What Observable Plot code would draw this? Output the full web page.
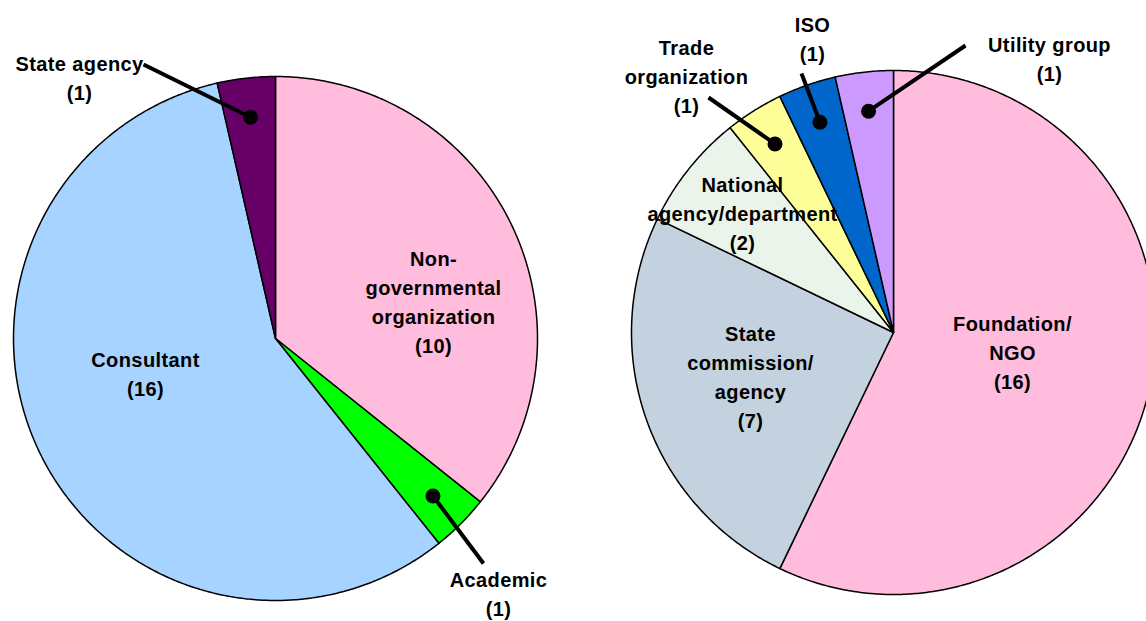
<!DOCTYPE html>
<html>
<head>
<meta charset="utf-8">
<script src="https://cdn.jsdelivr.net/npm/d3@7"></script>
<script src="https://cdn.jsdelivr.net/npm/@observablehq/plot@0.6"></script>
<style>
  html, body { margin: 0; padding: 0; background: #fff; }
  #chart svg { display: block; }
  #chart svg text { letter-spacing: 0.4px; }
</style>
</head>
<body>
<div id="chart"></div>
<script>
// ---- Data ----
const leftCategories = ["Non-governmental organization", "Academic", "Consultant", "State agency"];
const leftValues = [10, 1, 16, 1];
const leftColors = ["#FFBCDD", "#00FF00", "#A6D3FF", "#660066"];
const leftLabels = ["Non-\ngovernmental\norganization\n(10)", "Academic\n(1)", "Consultant\n(16)", "State agency\n(1)"];

const rightCategories = ["Foundation/NGO", "State commission/agency", "National agency/department", "Trade organization", "ISO", "Utility group"];
const rightValues = [16, 7, 2, 1, 1, 1];
const rightColors = ["#FFBCDD", "#C3D2DE", "#EBF4EA", "#FFFF99", "#0066CC", "#CC99FF"];
const rightLabels = ["Foundation/\nNGO\n(16)", "State\ncommission/\nagency\n(7)", "National\nagency/department\n(2)", "Trade\norganization\n(1)", "ISO\n(1)", "Utility group\n(1)"];

// ---- Layout ----
const pies = [
  {name: "left", cx: 275, cy: 338, r: 262, cats: leftCategories, values: leftValues, colors: leftColors, labels: leftLabels,
   labelPos: [[433, 300], [498, 592], [145, 372], [79, 76]],
   leader:   [null, [483, 563], null, [143, 64]]},
  {name: "right", cx: 893, cy: 332, r: 262, cats: rightCategories, values: rightValues, colors: rightColors, labels: rightLabels,
   labelPos: [[1012, 350], [750, 375], [742, 211], [686, 74], [812, 37], [1049, 57]],
   leader:   [null, null, null, [708, 97], [801, 73], [965, 45]]}
];

const polys = [], leaders = [], texts = [];
for (const p of pies) {
  const arcs = d3.pie().sort(null)(p.values);
  arcs.forEach((a, i) => {
    const key = p.name + i;
    polys.push({key, x: p.cx, y: p.cy, color: p.colors[i]});
    const n = Math.max(2, Math.ceil((a.endAngle - a.startAngle) / (Math.PI / 360)));
    for (let k = 0; k <= n; k++) {
      const t = a.startAngle + (a.endAngle - a.startAngle) * k / n;
      polys.push({key, x: p.cx + p.r * Math.sin(t), y: p.cy - p.r * Math.cos(t), color: p.colors[i]});
    }
    const mid = (a.startAngle + a.endAngle) / 2;
    if (p.leader[i]) {
      leaders.push({
        x1: p.leader[i][0], y1: p.leader[i][1],
        x2: p.cx + 0.85 * p.r * Math.sin(mid), y2: p.cy - 0.85 * p.r * Math.cos(mid)
      });
    }
    texts.push({x: p.labelPos[i][0], y: p.labelPos[i][1], text: p.labels[i]});
  });
}

const chart = Plot.plot({
  width: 1146,
  height: 621,
  margin: 0,
  x: {domain: [0, 1146], range: [0, 1146], axis: null},
  y: {domain: [0, 621], range: [0, 621], axis: null},
  color: {type: "identity"},
  marks: [
    Plot.line(polys, {x: "x", y: "y", z: "key", fill: "color", stroke: "black", strokeWidth: 1.5, curve: "linear-closed"}),
    Plot.link(leaders, {x1: "x1", y1: "y1", x2: "x2", y2: "y2", stroke: "black", strokeWidth: 4}),
    Plot.dot(leaders, {x: "x2", y: "y2", r: 7.5, fill: "black"}),
    Plot.text(texts, {x: "x", y: "y", text: "text", fontSize: 20, fontWeight: "bold", lineHeight: 1.45,
      fill: "black", fontFamily: "Liberation Sans, Arial, sans-serif", textAnchor: "middle"})
  ]
});
document.getElementById("chart").append(chart);
</script>
</body>
</html>
